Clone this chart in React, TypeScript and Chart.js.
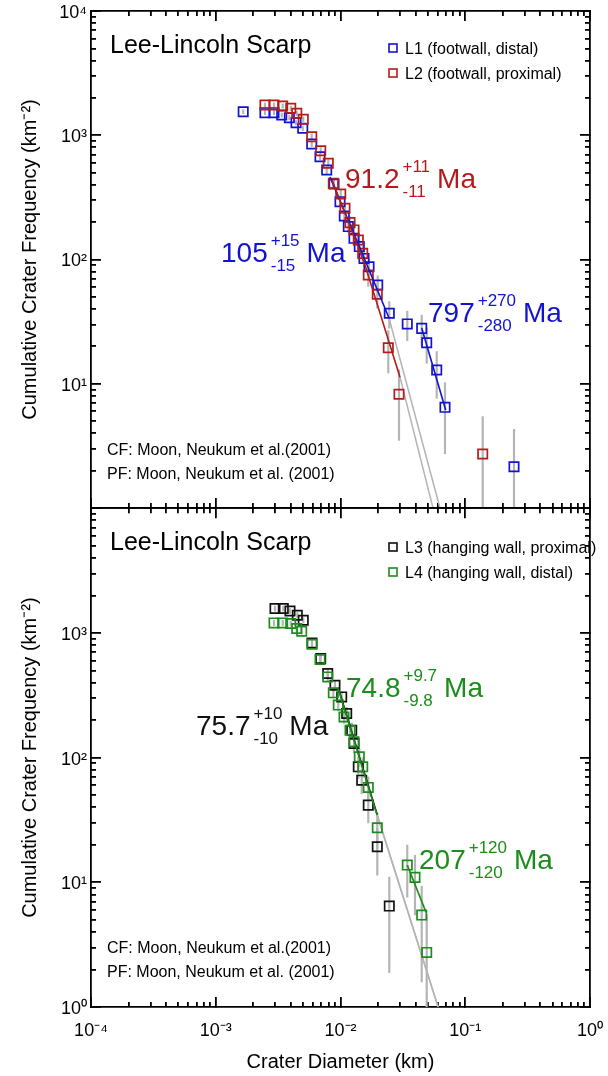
import React, { useEffect, useRef } from 'react';
import { Chart, registerables } from 'chart.js';

Chart.register(...registerables);

const FONT = "'Liberation Sans', Arial, Helvetica, sans-serif";

const BLUE = '#1212d2';
const RED = '#b31c1c';
const GREEN = '#1c8c1c';
const BLACK = '#111111';
const GRAY = '#b4b4b4';

// ---------- Top panel: L1 (footwall, distal) ----------
const L1_D = [0.00166, 0.00248, 0.00293, 0.00338, 0.00389, 0.0044, 0.00498, 0.00588, 0.00685, 0.00775, 0.00887, 0.00991, 0.01073, 0.01155, 0.01283, 0.01415, 0.01543, 0.01693, 0.01987, 0.02461, 0.0343, 0.04477, 0.04909, 0.05904, 0.06881, 0.2459];
const L1_N = [1547, 1519, 1519, 1455, 1384, 1262, 1138, 850, 672, 525, 405, 292, 224, 184, 148, 127, 102, 87.5, 62.4, 36.9, 30.3, 27.9, 21.4, 12.9, 6.46, 2.15];
const L1_AREA = 0.465; // km^2, counting area (Poisson error bars)

// ---------- Top panel: L2 (footwall, proximal) ----------
const L2_D = [0.00248, 0.00293, 0.00344, 0.00399, 0.00446, 0.00503, 0.00588, 0.00694, 0.00798, 0.00876, 0.01004, 0.01086, 0.01192, 0.01283, 0.01389, 0.01507, 0.0167, 0.01972, 0.02416, 0.02944, 0.138];
const L2_N = [1752, 1752, 1719, 1648, 1502, 1344, 973, 751, 595, 410, 337, 258, 198, 173, 143.5, 112, 75, 52.5, 19.5, 8.23, 2.72];
const L2_AREA = 0.368;

// Top panel fitted isochrons
const FIT_L1_D = [0.00823, 0.01433, 0.02448];
const FIT_L1_N = [461, 123.8, 33.8];
const EXT_L1_D = [0.02448, 0.0627];
const EXT_L1_N = [33.8, 1];
const FIT_L2_D = [0.00855, 0.01572, 0.02999];
const FIT_L2_N = [436, 90.3, 11.3];
const EXT_L2_D = [0.02999, 0.0551];
const EXT_L2_N = [11.3, 1];
const FIT_L1B_D = [0.04477, 0.0697];
const FIT_L1B_N = [28.1, 6.15];

// ---------- Bottom panel: L3 (hanging wall, proximal) ----------
const L3_D = [0.002985, 0.003479, 0.003937, 0.004506, 0.00503, 0.00591, 0.00694, 0.0079, 0.00903, 0.01022, 0.01121, 0.0123, 0.01283, 0.01389, 0.01479, 0.0167, 0.01972, 0.02461];
const L3_N = [1570, 1570, 1502, 1388, 1265, 832, 624, 473, 381, 307, 226, 166, 130, 84.4, 66, 41.6, 19.3, 6.45];
const L3_AREA = 0.31;

// ---------- Bottom panel: L4 (hanging wall, distal) ----------
const L4_D = [0.002931, 0.003441, 0.003989, 0.004455, 0.004887, 0.00591, 0.006852, 0.0079, 0.00876, 0.0096, 0.01067, 0.01192, 0.01283, 0.01415, 0.01507, 0.0167, 0.01972, 0.0343, 0.03955, 0.04477, 0.04909];
const L4_N = [1204, 1204, 1190, 1086, 1033, 812, 613, 444, 331, 264, 212, 166, 134, 101.5, 84.4, 57.7, 27.4, 13.75, 10.96, 5.46, 2.74];
const L4_AREA = 0.365;

// Bottom panel fitted isochrons
const FIT_L3_D = [0.00958, 0.01968];
const FIT_L3_N = [364, 35];
const EXT_L3_D = [0.01968, 0.0607];
const EXT_L3_N = [35, 1];
const FIT_L4_D = [0.00955, 0.01962];
const FIT_L4_N = [360, 34.6];
const EXT_L4_D = [0.01962, 0.0605];
const EXT_L4_N = [34.6, 1];
const FIT_L4B_D = [0.0343, 0.04845];
const FIT_L4B_N = [13.75, 5.77];

// Axis ticks
const X_MAJOR = [1e-4, 1e-3, 1e-2, 1e-1, 1];
const X_MINOR = [2e-4, 3e-4, 4e-4, 5e-4, 6e-4, 7e-4, 8e-4, 9e-4, 2e-3, 3e-3, 4e-3, 5e-3, 6e-3, 7e-3, 8e-3, 9e-3, 0.02, 0.03, 0.04, 0.05, 0.06, 0.07, 0.08, 0.09, 0.2, 0.3, 0.4, 0.5, 0.6, 0.7, 0.8, 0.9];
const Y_MAJOR = [1, 10, 100, 1000, 10000];
const Y_MINOR = [2, 3, 4, 5, 6, 7, 8, 9, 20, 30, 40, 50, 60, 70, 80, 90, 200, 300, 400, 500, 600, 700, 800, 900, 2000, 3000, 4000, 5000, 6000, 7000, 8000, 9000];
const Y_LABELS_TOP = [10, 100, 1000, 10000];
const Y_LABELS_BOTTOM = [1, 10, 100, 1000];

const SUP: Record<string, string> = { '-': '\u207B', '0': '\u2070', '1': '\u00B9', '2': '\u00B2', '3': '\u00B3', '4': '\u2074' };
const pow10Label = (v: number) => {
  const e = Math.round(Math.log10(v));
  return '10' + String(e).split('').map((c) => SUP[c]).join('');
};

type Series = { D: number[]; N: number[]; area: number; color: string };
type Line = { D: number[]; N: number[]; color: string };
type Item =
  | { kind: 'text'; text: string; x: number; y: number; size: number; color: string }
  | { kind: 'legend'; text: string; x: number; y: number; color: string }
  | { kind: 'age'; main: string; sup: string; sub: string; x: number; y: number; color: string };

const pts = (D: number[], N: number[]) => D.map((d, i) => ({ x: d, y: N[i] }));

const errBars = (s: Series) =>
  s.D.map((d, i) => {
    const sig = Math.sqrt(s.N[i] / s.area);
    return { x: d, y: [Math.max(s.N[i] - sig, 1e-3), s.N[i] + sig] };
  });

const annotPlugin = {
  id: 'annot',
  afterDraw(chart: any, _args: any, opts: any) {
    const { ctx } = chart;
    const oy = opts.offsetY as number;
    const items = opts.items as Item[];
    ctx.save();
    ctx.textAlign = 'left';
    ctx.textBaseline = 'alphabetic';
    for (const t of items) {
      if (t.kind === 'text') {
        ctx.font = `${t.size}px ${FONT}`;
        ctx.fillStyle = t.color;
        ctx.fillText(t.text, t.x, t.y - oy);
      } else if (t.kind === 'legend') {
        ctx.strokeStyle = t.color;
        ctx.lineWidth = 1.6;
        ctx.strokeRect(t.x - 4, t.y - oy - 4, 8, 8);
        ctx.font = `16px ${FONT}`;
        ctx.fillStyle = '#000';
        ctx.fillText(t.text, t.x + 12, t.y - oy + 6);
      } else {
        const base = t.y - oy;
        ctx.fillStyle = t.color;
        ctx.font = `28px ${FONT}`;
        ctx.fillText(t.main, t.x, base);
        const w = ctx.measureText(t.main).width;
        ctx.font = `17px ${FONT}`;
        const sx = t.x + w + 3;
        ctx.fillText(t.sup, sx, base - 16);
        ctx.fillText(t.sub, sx, base + 9);
        const sw = Math.max(ctx.measureText(t.sup).width, ctx.measureText(t.sub).width);
        ctx.font = `28px ${FONT}`;
        ctx.fillText('Ma', sx + sw + 7, base);
      }
    }
    ctx.restore();
  },
};

type Panel = {
  offsetY: number;
  padding: { top: number; bottom: number; left: number; right: number };
  showX: boolean;
  yLabels: number[];
  series: Series[];
  fits: Line[];
  ext: Line[];
  items: Item[];
};

const TOP: Panel = {
  offsetY: 0,
  padding: { top: 11, bottom: 12, left: 0, right: 18 },
  showX: false,
  yLabels: Y_LABELS_TOP,
  series: [
    { D: L1_D, N: L1_N, area: L1_AREA, color: BLUE },
    { D: L2_D, N: L2_N, area: L2_AREA, color: RED },
  ],
  fits: [
    { D: FIT_L1_D, N: FIT_L1_N, color: BLUE },
    { D: FIT_L2_D, N: FIT_L2_N, color: RED },
    { D: FIT_L1B_D, N: FIT_L1B_N, color: BLUE },
  ],
  ext: [
    { D: EXT_L1_D, N: EXT_L1_N, color: GRAY },
    { D: EXT_L2_D, N: EXT_L2_N, color: GRAY },
  ],
  items: [
    { kind: 'text', text: 'Lee-Lincoln Scarp', x: 110, y: 53, size: 25, color: '#000' },
    { kind: 'legend', text: 'L1 (footwall, distal)', x: 393, y: 48, color: BLUE },
    { kind: 'legend', text: 'L2 (footwall, proximal)', x: 393, y: 73, color: RED },
    { kind: 'age', main: '91.2', sup: '+11', sub: '-11', x: 345, y: 188, color: RED },
    { kind: 'age', main: '105', sup: '+15', sub: '-15', x: 221, y: 262, color: BLUE },
    { kind: 'age', main: '797', sup: '+270', sub: '-280', x: 428, y: 322, color: BLUE },
    { kind: 'text', text: 'CF: Moon, Neukum et al.(2001)', x: 107, y: 455, size: 16, color: '#000' },
    { kind: 'text', text: 'PF: Moon, Neukum et al. (2001)', x: 107, y: 479, size: 16, color: '#000' },
  ],
};

const BOTTOM: Panel = {
  offsetY: 500,
  padding: { top: 8, bottom: 0, left: 0, right: 18 },
  showX: true,
  yLabels: Y_LABELS_BOTTOM,
  series: [
    { D: L3_D, N: L3_N, area: L3_AREA, color: BLACK },
    { D: L4_D, N: L4_N, area: L4_AREA, color: GREEN },
  ],
  fits: [
    { D: FIT_L3_D, N: FIT_L3_N, color: BLACK },
    { D: FIT_L4_D, N: FIT_L4_N, color: GREEN },
    { D: FIT_L4B_D, N: FIT_L4B_N, color: GREEN },
  ],
  ext: [
    { D: EXT_L3_D, N: EXT_L3_N, color: GRAY },
    { D: EXT_L4_D, N: EXT_L4_N, color: GRAY },
  ],
  items: [
    { kind: 'text', text: 'Lee-Lincoln Scarp', x: 110, y: 550, size: 25, color: '#000' },
    { kind: 'legend', text: 'L3 (hanging wall, proximal)', x: 393, y: 547, color: BLACK },
    { kind: 'legend', text: 'L4 (hanging wall, distal)', x: 393, y: 572, color: GREEN },
    { kind: 'age', main: '74.8', sup: '+9.7', sub: '-9.8', x: 346, y: 697, color: GREEN },
    { kind: 'age', main: '75.7', sup: '+10', sub: '-10', x: 196, y: 735, color: BLACK },
    { kind: 'age', main: '207', sup: '+120', sub: '-120', x: 419, y: 869, color: GREEN },
    { kind: 'text', text: 'CF: Moon, Neukum et al.(2001)', x: 107, y: 953, size: 16, color: '#000' },
    { kind: 'text', text: 'PF: Moon, Neukum et al. (2001)', x: 107, y: 977, size: 16, color: '#000' },
  ],
};

const zeroPad = (s: any) => {
  s.paddingTop = 0;
  s.paddingBottom = 0;
  s.paddingLeft = 0;
  s.paddingRight = 0;
};

const TICK_COLOR = '#000000';
const TICK_W = 1.8;
const MAJOR_LEN = 10;
const MINOR_LEN = 5;

// A log axis used only to draw inward tick marks (and the frame edge) on one side.
function tickAxis(axis: 'x' | 'y', position: string, ticks: number[], len: number, weight: number, border: boolean): any {
  const isX = axis === 'x';
  return {
    type: 'logarithmic',
    axis,
    position,
    weight,
    min: isX ? 1e-4 : 1,
    max: isX ? 1 : 10000,
    offset: false,
    display: true,
    grid: {
      display: true,
      drawOnChartArea: false,
      drawTicks: true,
      tickLength: -len,
      tickColor: TICK_COLOR,
      tickWidth: TICK_W,
      color: TICK_COLOR,
      lineWidth: TICK_W,
      offset: false,
    },
    border: { display: border, color: '#000', width: 1.8 },
    ticks: { display: false, autoSkip: false },
    title: { display: false },
    afterBuildTicks: (s: any) => {
      s.ticks = ticks.map((v) => ({ value: v }));
    },
    afterFit: (s: any) => {
      if (isX) s.height = 0;
      else s.width = 0;
      zeroPad(s);
    },
  };
}

function makeConfig(p: Panel): any {
  const datasets: any[] = [];
  datasets.push({
    type: 'bar',
    data: p.series.flatMap((s) => errBars(s)),
    backgroundColor: GRAY,
    borderWidth: 0,
    barThickness: 1.5,
    order: 5,
  });
  p.ext.forEach((l) =>
    datasets.push({
      type: 'scatter',
      showLine: true,
      data: pts(l.D, l.N),
      borderColor: l.color,
      borderWidth: 1.5,
      pointRadius: 0,
      order: 4,
    })
  );
  p.series.forEach((s, i) =>
    datasets.push({
      type: 'scatter',
      data: pts(s.D, s.N),
      pointStyle: 'rect',
      pointRadius: 6.6,
      pointBorderWidth: 1.7,
      borderColor: s.color,
      backgroundColor: 'rgba(0,0,0,0)',
      order: 3 - i * 0.5,
    })
  );
  p.fits.forEach((l, i) =>
    datasets.push({
      type: 'scatter',
      showLine: true,
      data: pts(l.D, l.N),
      borderColor: l.color,
      borderWidth: 1.6,
      pointRadius: 0,
      order: 1 - i * 0.1,
    })
  );

  const tickFont = { family: FONT, size: 18 };
  const majorGrid = {
    display: true,
    drawOnChartArea: false,
    drawTicks: true,
    tickLength: -MAJOR_LEN,
    tickColor: TICK_COLOR,
    tickWidth: TICK_W,
    color: TICK_COLOR,
    lineWidth: TICK_W,
    offset: false,
  };
  return {
    type: 'scatter',
    data: { datasets },
    plugins: [annotPlugin],
    options: {
      animation: false,
      responsive: false,
      devicePixelRatio: 1,
      events: [],
      layout: { padding: p.padding },
      plugins: {
        legend: { display: false },
        tooltip: { enabled: false },
        annot: { offsetY: p.offsetY, items: p.items },
      },
      scales: {
        x: {
          type: 'logarithmic',
          position: 'bottom',
          weight: 0,
          min: 1e-4,
          max: 1,
          offset: false,
          display: true,
          grid: majorGrid,
          border: { display: true, color: '#000', width: 1.8 },
          afterBuildTicks: (s: any) => {
            s.ticks = X_MAJOR.map((v) => ({ value: v }));
          },
          afterFit: (s: any) => {
            s.height = p.showX ? 69 : 0;
            zeroPad(s);
          },
          ticks: {
            display: p.showX,
            autoSkip: false,
            maxRotation: 0,
            padding: 13 + MAJOR_LEN,
            color: '#000',
            font: tickFont,
            callback: (v: any) => pow10Label(Number(v)),
          },
          title: {
            display: p.showX,
            text: 'Crater Diameter (km)',
            color: '#000',
            font: { family: FONT, size: 20 },
            padding: { top: 0, bottom: 2 },
          },
        },
        xMinorB: tickAxis('x', 'bottom', X_MINOR, MINOR_LEN, -1, false),
        xTop: tickAxis('x', 'top', X_MAJOR, MAJOR_LEN, 0, true),
        xMinorT: tickAxis('x', 'top', X_MINOR, MINOR_LEN, -1, false),
        y: {
          type: 'logarithmic',
          position: 'left',
          weight: 0,
          min: 1,
          max: 10000,
          offset: false,
          beginAtZero: false,
          grid: majorGrid,
          border: { display: true, color: '#000', width: 1.8 },
          afterBuildTicks: (s: any) => {
            s.ticks = Y_MAJOR.map((v) => ({ value: v }));
          },
          afterFit: (s: any) => {
            s.width = 91;
            zeroPad(s);
          },
          ticks: {
            autoSkip: false,
            padding: 4 + MAJOR_LEN,
            labelOffset: 2,
            color: '#000',
            font: tickFont,
            callback: (v: any) => (p.yLabels.includes(Number(v)) ? pow10Label(Number(v)) : ''),
          },
          title: {
            display: true,
            text: 'Cumulative Crater Frequency (km\u207B\u00B2)',
            color: '#000',
            font: { family: FONT, size: 20 },
            padding: { top: 18, bottom: 0 },
          },
        },
        yMinorL: tickAxis('y', 'left', Y_MINOR, MINOR_LEN, -1, false),
        yRight: tickAxis('y', 'right', Y_MAJOR, MAJOR_LEN, 0, true),
        yMinorR: tickAxis('y', 'right', Y_MINOR, MINOR_LEN, -1, false),
      },
    },
  };
}

export default function App() {
  const topRef = useRef<HTMLCanvasElement>(null);
  const botRef = useRef<HTMLCanvasElement>(null);

  useEffect(() => {
    Chart.defaults.font.family = FONT;
    Chart.defaults.color = '#000';
    const c1 = new Chart(topRef.current as HTMLCanvasElement, makeConfig(TOP));
    const c2 = new Chart(botRef.current as HTMLCanvasElement, makeConfig(BOTTOM));
    return () => {
      c1.destroy();
      c2.destroy();
    };
  }, []);

  return (
    <div style={{ position: 'absolute', left: 0, top: 0, width: 608, height: 1076, background: '#fff' }}>
      <canvas ref={topRef} width={608} height={520} style={{ position: 'absolute', left: 0, top: 0, width: 608, height: 520 }} />
      <canvas ref={botRef} width={608} height={576} style={{ position: 'absolute', left: 0, top: 500, width: 608, height: 576 }} />
    </div>
  );
}
